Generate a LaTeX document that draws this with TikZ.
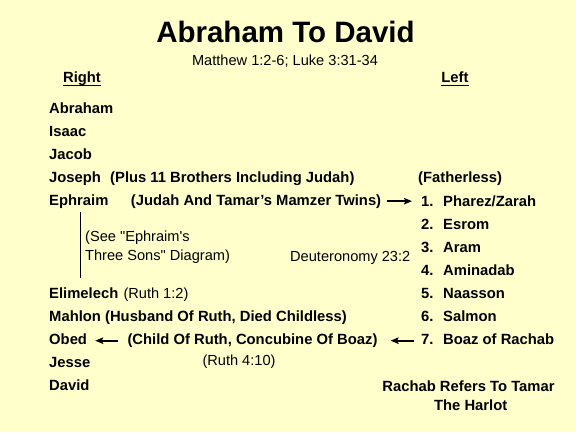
\documentclass[tikz,border=0pt]{standalone}
\usepackage{fontspec}
\setmainfont{Liberation Sans}
\newfontfamily\plainquote{Liberation Sans}[Ligatures=TeXOff]
\usetikzlibrary{arrows.meta}
\definecolor{bg}{HTML}{FFFFCC}
\tikzset{
  bt/.style={anchor=base west, inner sep=0pt, font=\fontsize{14.8}{17}\selectfont\bfseries},
  rt/.style={anchor=base west, inner sep=0pt, font=\fontsize{14.6}{17}\selectfont},
  arr/.style={-{Stealth[length=8pt,width=6.5pt,inset=1.5pt]}, line width=1.8pt},
  uline/.style={line width=1.3pt},
}
\newcommand{\numitem}[2]{\makebox[22pt][l]{#1}#2}
\newcommand{\sq}{{\plainquote"}}
\begin{document}
\begin{tikzpicture}[x=1pt,y=-1pt]
\useasboundingbox (0,0) rectangle (576,432);
\fill[bg] (0,0) rectangle (576,432);

% title
\node[anchor=base, inner sep=0pt, font=\fontsize{29.5}{34}\selectfont\bfseries] (title) at (285.5,42) {Abraham To David};
\node[anchor=base, inner sep=0pt, font=\fontsize{14.6}{17}\selectfont] (sub) at (285,65) {Matthew 1:2-6; Luke 3:31-34};

% headers
\node[bt, anchor=base] (right) at (82,82.7) {Right};
\node[bt, anchor=base] (left) at (455,82.7) {Left};
\draw[uline] ([yshift=-2.6pt]right.base west) -- ([yshift=-2.6pt]right.base east);
\draw[uline] ([yshift=-2.6pt]left.base west) -- ([yshift=-2.6pt]left.base east);

% left column
\node[bt] (abraham) at (49,113) {Abraham};
\node[bt] (isaac) at (49,136) {Isaac};
\node[bt] (jacob) at (49,159) {Jacob};
\node[bt] (joseph) at (49,182) {Joseph};
\node[bt] (ephraim) at (49,205) {Ephraim};
\node[bt] (plus) at (110,182) {(Plus 11 Brothers Including Judah)};
\node[bt] (judah) at (130.7,205) {(Judah And Tamar's Mamzer Twins)};

\coordinate (vtop) at (80,212);
\coordinate (vbot) at (80,278);
\draw[line width=1pt] (vtop) -- (vbot);
\node[rt] (see1) at (85,241.7) {(See \sq Ephraim{\plainquote'}s};
\node[rt] (see2) at (85,260.2) {Three Sons\sq\ Diagram)};
\node[rt] (deut) at (290,261.5) {Deuteronomy 23:2};

\node[bt] (elimelech) at (49,298.5) {Elimelech};
\node[rt] (ruth12) at (123.3,298.5) {(Ruth 1:2)};
\node[bt] (mahlon) at (49,321.5) {Mahlon (Husband Of Ruth, Died Childless)};
\node[bt] (obed) at (49,344.5) {Obed};
\node[bt] (child) at (127.3,344.5) {(Child Of Ruth, Concubine Of Boaz)};
\node[rt] (ruth410) at (202.3,365) {(Ruth 4:10)};
\node[bt] (jesse) at (49,367.5) {Jesse};
\node[bt] (david) at (49,390.7) {David};

% right column
\node[bt] (fatherless) at (418,182) {(Fatherless)};
\node[bt] (n1) at (421,206) {\numitem{1.}{Pharez/Zarah}};
\node[bt] (n2) at (421,229) {\numitem{2.}{Esrom}};
\node[bt] (n3) at (421,252) {\numitem{3.}{Aram}};
\node[bt] (n4) at (421,275) {\numitem{4.}{Aminadab}};
\node[bt] (n5) at (421,298) {\numitem{5.}{Naasson}};
\node[bt] (n6) at (421,321) {\numitem{6.}{Salmon}};
\node[bt] (n7) at (421,344) {\numitem{7.}{Boaz of Rachab}};

\node[bt, anchor=base] (rachab) at (468.5,391.7) {Rachab Refers To Tamar};
\node[bt, anchor=base] (harlot) at (470.7,410) {The Harlot};

% arrows
\draw[arr] ([xshift=6pt]judah.east) -- ([xshift=-9pt]n1.west |- judah.east);
\draw[arr] ([xshift=-7pt]n7.west |- child.east) -- ([xshift=13pt]child.east);
\draw[arr] ([xshift=-9pt]child.west) -- ([xshift=8pt]obed.east |- child.west);
\end{tikzpicture}
\end{document}
